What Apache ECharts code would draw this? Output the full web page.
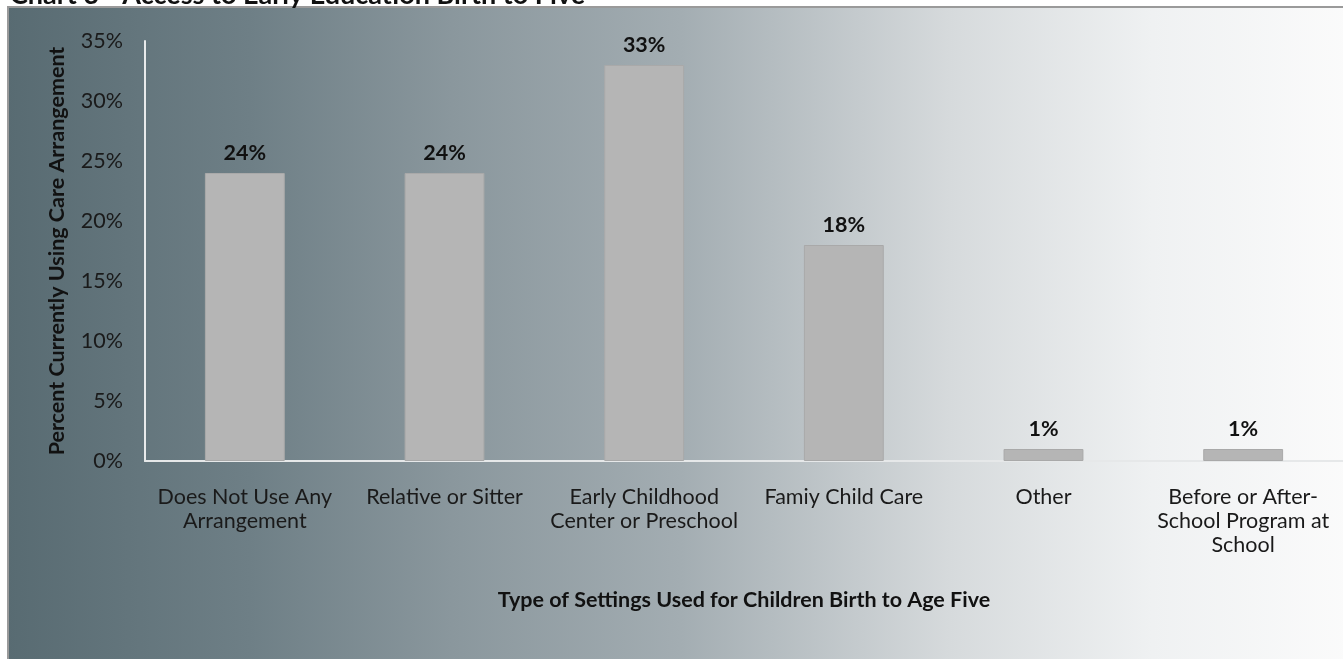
<!DOCTYPE html>
<html>
<head>
<meta charset="utf-8">
<script src="https://cdn.jsdelivr.net/npm/echarts@6/dist/echarts.min.js"></script>
<style>
html,body{margin:0;padding:0;background:#fff;}
#chart{width:1343px;height:659px;}
</style>
</head>
<body>
<div id="chart"></div>
<script>
const titleText = 'Chart 3 - Access to Early Education Birth to Five';
const categories = ['Does Not Use Any\nArrangement', 'Relative or Sitter', 'Early Childhood\nCenter or Preschool', 'Famiy Child Care', 'Other', 'Before or After-\nSchool Program at\nSchool'];
const values = [24, 24, 33, 18, 1, 1];
const yTicks = [0, 5, 10, 15, 20, 25, 30, 35];
const yAxisTitle = 'Percent Currently Using Care Arrangement';
const xAxisTitle = 'Type of Settings Used for Children Birth to Age Five';

const FONT = 'Lato, "Open Sans", sans-serif';
const FS = 21.5;
const chart = echarts.init(document.getElementById('chart'), null, {renderer: 'canvas'});
chart.setOption({
  animation: false,
  graphic: [
    {type: 'rect', z: -10, silent: true,
     shape: {x: 8, y: 7, width: 1345, height: 660},
     style: {
       fill: new echarts.graphic.LinearGradient(0, 0, 1, 0, [
         {offset: 0, color: '#586b72'},
         {offset: 0.18, color: '#6e7f86'},
         {offset: 0.33, color: '#8a979d'},
         {offset: 0.5, color: '#a3adb2'},
         {offset: 0.7, color: '#d6dadc'},
         {offset: 0.85, color: '#eff1f2'},
         {offset: 1, color: '#fbfbfb'}
       ]),
       stroke: '#9a9a9a', lineWidth: 2
     }},
    {type: 'text', z: -5, silent: true,
     style: {x: 10, y: 9, text: titleText, font: 'bold 27px ' + FONT, fill: '#111', verticalAlign: 'bottom', align: 'left'}}
  ],
  grid: {left: 145, top: 41, width: 1206, height: 420, containLabel: false},
  xAxis: {
    type: 'category',
    data: categories,
    axisLine: {show: true, lineStyle: {color: '#e6e8e9', width: 2}},
    axisTick: {show: false},
    axisLabel: {interval: 0, color: '#1a1a1a', fontSize: FS, fontFamily: FONT, lineHeight: 24, margin: 24},
    name: xAxisTitle,
    nameLocation: 'middle',
    nameGap: 128,
    nameTextStyle: {fontSize: FS, fontWeight: 'bold', color: '#111', fontFamily: FONT}
  },
  yAxis: {
    type: 'value',
    min: 0, max: 35, interval: 5,
    axisLine: {show: true, lineStyle: {color: '#e8eaeb', width: 2}},
    axisTick: {show: false},
    splitLine: {show: false},
    axisLabel: {color: '#1a1a1a', fontSize: FS, fontFamily: FONT, margin: 22,
      formatter: v => yTicks.includes(v) ? v + '%' : ''},
    name: yAxisTitle,
    nameLocation: 'middle',
    nameGap: 77,
    nameRotate: 90,
    nameTextStyle: {fontSize: FS, fontWeight: 'bold', color: '#111', fontFamily: FONT}
  },
  series: [{
    type: 'bar',
    data: values,
    barWidth: '40%',
    itemStyle: {color: '#b5b5b5', borderColor: '#a9a9a9', borderWidth: 1},
    label: {show: true, position: 'top', distance: 9, formatter: p => p.value + '%',
      fontSize: FS, fontWeight: 'bold', color: '#111', fontFamily: FONT}
  }]
});
</script>
</body>
</html>
